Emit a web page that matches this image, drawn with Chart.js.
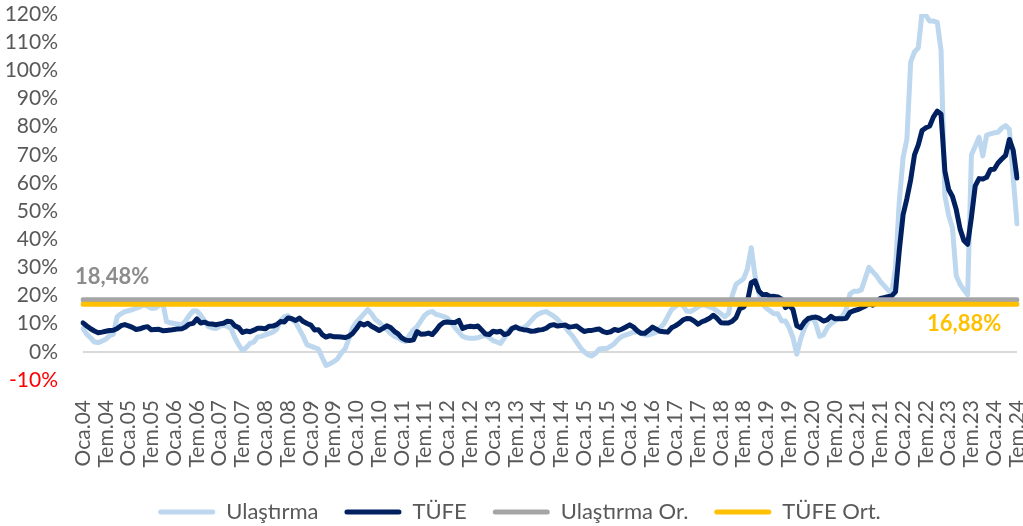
<!DOCTYPE html>
<html>
<head>
<meta charset="utf-8">
<script src="https://cdn.jsdelivr.net/npm/chart.js@4.4.1/dist/chart.umd.min.js"></script>
<style>
  html, body { margin: 0; padding: 0; background: #ffffff; }
  #wrap { width: 1023px; height: 526px; position: relative; }
</style>
</head>
<body>
<div id="wrap"><canvas id="c"></canvas></div>
<script>
// ---- categories ----
const monthNames = ['Oca','Şub','Mar','Nis','May','Haz','Tem','Ağu','Eyl','Eki','Kas','Ara'];
const firstYear = 2004, lastYear = 2024, lastMonthIndex = 6; // Tem.24
const categories = [];
for (let y = firstYear; y <= lastYear; y++) {
  for (let m = 0; m < 12; m++) {
    if (y === lastYear && m > lastMonthIndex) break;
    categories.push(monthNames[m] + '.' + String(y).slice(2));
  }
}

// ---- series (annual % change) ----
const ulastirma = [
  8.3, 6.2, 5.0, 3.5, 3.3, 3.8, 4.5, 5.7, 6.3, 12.5, 13.5, 14.3,          // 2004
  14.6, 15.0, 15.5, 16.0, 16.7, 16.2, 15.5, 15.5, 16.5, 17.5, 10.7, 10.3, // 2005
  10.1, 9.8, 9.5, 11.0, 13.0, 14.5, 14.5, 13.0, 11.0, 9.0, 8.5, 8.3,      // 2006
  9.0, 9.5, 9.0, 8.3, 5.0, 2.5, 0.5, 1.5, 3.0, 3.5, 5.3, 5.5,             // 2007
  6.0, 6.5, 7.0, 8.0, 11.0, 12.5, 12.8, 11.5, 10.5, 8.0, 5.5, 2.5,        // 2008
  2.0, 1.5, 1.0, -2.0, -4.8, -4.3, -3.5, -2.5, -0.5, 1.0, 4.5, 8.5,       // 2009
  10.5, 12.0, 13.5, 15.0, 13.5, 11.5, 10.5, 9.0, 8.0, 6.5, 5.5, 5.0,      // 2010
  4.0, 3.7, 6.0, 7.7, 9.0, 11.0, 13.0, 14.0, 14.3, 13.3, 13.0, 12.5,      // 2011
  12.0, 10.5, 8.5, 7.0, 5.5, 5.0, 4.8, 4.8, 5.0, 5.5, 6.0, 5.0,           // 2012
  4.0, 3.5, 3.0, 5.0, 7.5, 8.5, 8.5, 8.5, 8.5, 9.5, 11.0, 12.5,           // 2013
  13.5, 14.0, 14.3, 13.5, 12.7, 11.5, 10.0, 8.8, 7.0, 5.5, 3.5, 1.5,      // 2014
  0.0, -1.0, -1.5, -0.5, 1.0, 1.2, 1.2, 2.0, 3.0, 4.5, 5.5, 6.0,          // 2015
  6.5, 7.0, 7.1, 6.5, 6.0, 6.0, 6.5, 7.0, 8.5, 10.0, 12.5, 15.0,          // 2016
  16.1, 17.0, 16.5, 14.5, 14.3, 15.0, 16.0, 16.7, 16.5, 16.0, 15.5, 14.5, // 2017
  13.5, 12.5, 13.5, 20.0, 24.0, 25.0, 26.0, 29.5, 37.0, 27.0, 21.0, 17.0, // 2018
  15.5, 14.5, 13.5, 13.5, 11.0, 11.0, 8.5, 5.0, -0.8, 4.5, 8.3, 11.0,     // 2019
  12.5, 10.0, 5.5, 6.0, 8.5, 10.0, 11.0, 12.0, 12.5, 15.0, 20.5, 21.5,    // 2020
  21.5, 22.0, 26.0, 30.0, 28.5, 27.0, 25.0, 23.5, 22.0, 21.0, 30.0, 53.5, // 2021
  69.0, 75.5, 103.0, 106.5, 108.0, 120.5, 119.5, 117.5, 117.5, 117.0, 107.0, 55.5, // 2022
  48.5, 44.0, 27.0, 24.0, 22.0, 20.3, 70.0, 73.0, 76.2, 69.6, 77.0, 77.4, // 2023
  77.8, 78.0, 79.5, 80.4, 79.0, 62.0, 45.5                                // 2024
];
const tufe = [
  10.3, 9.2, 8.2, 7.4, 6.8, 7.0, 7.3, 7.6, 7.7, 8.3, 9.3, 9.7,            // 2004
  9.24, 8.69, 7.94, 8.18, 8.70, 8.95, 7.82, 7.91, 7.99, 7.52, 7.61, 7.72, // 2005
  7.93, 8.15, 8.16, 8.83, 9.86, 10.12, 11.69, 10.26, 10.55, 9.98, 9.86, 9.65, // 2006
  9.93, 10.16, 10.86, 10.72, 9.23, 8.60, 6.90, 7.39, 7.12, 7.70, 8.40, 8.39,  // 2007
  8.17, 9.10, 9.15, 9.66, 10.74, 10.61, 12.06, 11.77, 11.13, 11.99, 10.76, 10.06, // 2008
  9.50, 7.73, 7.89, 6.13, 5.24, 5.73, 5.39, 5.33, 5.27, 5.08, 5.53, 6.53, // 2009
  8.19, 10.13, 9.56, 10.19, 9.10, 8.37, 7.58, 8.33, 9.24, 8.62, 7.29, 6.40, // 2010
  4.90, 4.16, 3.99, 4.26, 7.17, 6.24, 6.31, 6.65, 6.15, 7.66, 9.48, 10.45,  // 2011
  10.61, 10.43, 10.43, 11.14, 8.28, 8.87, 9.07, 8.88, 9.19, 7.80, 6.37, 6.16, // 2012
  7.31, 7.03, 7.29, 6.13, 6.51, 8.30, 8.88, 8.17, 7.88, 7.71, 7.32, 7.40, // 2013
  7.75, 7.89, 8.39, 9.38, 9.66, 9.16, 9.32, 9.54, 8.86, 8.96, 9.15, 8.17, // 2014
  7.24, 7.55, 7.61, 7.91, 8.09, 7.20, 6.81, 7.14, 7.95, 7.58, 8.10, 8.81, // 2015
  9.58, 8.78, 7.46, 6.57, 6.58, 7.64, 8.79, 8.05, 7.28, 7.16, 7.00, 8.53, // 2016
  9.22, 10.13, 11.29, 11.87, 11.72, 10.90, 9.79, 10.68, 11.20, 11.90, 12.98, 11.92, // 2017
  10.35, 10.26, 10.23, 10.85, 12.15, 15.39, 15.85, 17.90, 24.52, 25.24, 21.62, 20.30, // 2018
  20.35, 19.67, 19.71, 19.50, 18.71, 15.72, 16.65, 15.01, 9.26, 8.55, 10.56, 11.84, // 2019
  12.15, 12.37, 11.86, 10.94, 11.39, 12.62, 11.76, 11.77, 11.75, 11.89, 14.03, 14.60, // 2020
  14.97, 15.61, 16.19, 17.14, 16.59, 17.53, 18.95, 19.25, 19.58, 19.89, 21.31, 36.08, // 2021
  48.69, 54.44, 61.14, 69.97, 73.50, 78.62, 79.60, 80.21, 83.45, 85.51, 84.39, 64.27, // 2022
  57.68, 55.18, 50.51, 43.68, 39.59, 38.21, 47.83, 58.94, 61.53, 61.36, 61.98, 64.77, // 2023
  64.86, 67.07, 68.50, 69.80, 75.45, 71.60, 61.78                         // 2024
];
const ulastirmaOrt = 18.48;
const tufeOrt = 16.88;
const avgLabels = ['18,48%', '16,88%'];

// ---- axis ----
const yMin = -10, yMax = 120, yStep = 10;
const labelEvery = 6;

const FONT = 'Lato, "Open Sans", sans-serif';
const GREY_TXT = '#595959';

const avgLine = (v) => [
  { x: categories[0], y: v },
  { x: categories[categories.length - 1], y: v }
];

const annotPlugin = {
  id: 'avgText',
  afterLayout(chart) {
    // nudge the legend row a little to the right, as in the original
    if (chart.legend) { chart.legend.left += 11; chart.legend.right += 11; }
  },
  afterDatasetsDraw(chart) {
    const { ctx, chartArea, scales } = chart;
    const ys = scales.y;
    ctx.save();
    ctx.font = 'bold 22px ' + FONT;
    ctx.textBaseline = 'middle';
    ctx.textAlign = 'left';
    ctx.fillStyle = '#8C8C8C';
    ctx.fillText(avgLabels[0], chartArea.left - 8, ys.getPixelForValue(ulastirmaOrt) - 23);
    ctx.fillStyle = '#FFC000';
    ctx.fillText(avgLabels[1], chartArea.right - 90, ys.getPixelForValue(tufeOrt) + 20);
    ctx.restore();
  }
};

new Chart(document.getElementById('c'), {
  type: 'line',
  data: {
    labels: categories,
    datasets: [
      { label: 'Ulaştırma', data: ulastirma, borderColor: '#BDD7EE', backgroundColor: '#BDD7EE',
        borderWidth: 5, order: 4 },
      { label: 'TÜFE', data: tufe, borderColor: '#002060', backgroundColor: '#002060',
        borderWidth: 5, order: 3 },
      { label: 'Ulaştırma Or.', data: avgLine(ulastirmaOrt), borderColor: '#A5A5A5', backgroundColor: '#A5A5A5',
        borderWidth: 5, order: 2 },
      { label: 'TÜFE Ort.', data: avgLine(tufeOrt), borderColor: '#FFC000', backgroundColor: '#FFC000',
        borderWidth: 5, order: 1 }
    ]
  },
  options: {
    responsive: true,
    maintainAspectRatio: false,
    animation: false,
    devicePixelRatio: 1,
    layout: { padding: { top: 14, right: 6, bottom: -7, left: 0 } },
    elements: {
      point: { radius: 0, hoverRadius: 0 },
      line: { tension: 0, borderJoinStyle: 'round', borderCapStyle: 'round', fill: false }
    },
    plugins: {
      legend: {
        position: 'bottom',
        labels: {
          font: { family: FONT, size: 22 },
          color: GREY_TXT,
          boxWidth: 57,
          boxHeight: 5,
          padding: 26,
          useBorderRadius: true,
          borderRadius: 2.5,
          sort: (a, b) => a.datasetIndex - b.datasetIndex,
          generateLabels(chart) {
            const items = Chart.defaults.plugins.legend.labels.generateLabels(chart);
            items.forEach(it => { it.lineWidth = 0; it.fillStyle = it.strokeStyle; });
            return items;
          }
        }
      },
      tooltip: { enabled: false },
      title: { display: false }
    },
    scales: {
      x: {
        type: 'category',
        grid: { display: false },
        border: { display: false },
        ticks: {
          autoSkip: false,
          maxRotation: 90,
          minRotation: 90,
          padding: 12,
          color: GREY_TXT,
          font: { family: FONT, size: 21 },
          callback(val, idx) { return idx % labelEvery === 0 ? this.getLabelForValue(val) : ''; }
        },
        afterFit(s) { s.paddingLeft = 0; s.paddingRight = 0; s.height = 95; }
      },
      y: {
        min: yMin, max: yMax,
        border: { display: false },
        grid: {
          drawTicks: false,
          lineWidth: 2,
          color: (c) => (c.tick && c.tick.value === 0) ? '#D9D9D9' : 'rgba(0,0,0,0)'
        },
        ticks: {
          stepSize: yStep,
          autoSkip: false,
          padding: 25,
          color: (c) => (c.tick && c.tick.value < 0) ? '#FF0000' : GREY_TXT,
          font: { family: FONT, size: 21 },
          callback: (v) => v + '%'
        },
        afterFit(s) { s.width = 83; s.paddingTop = 0; s.paddingBottom = 0; }
      }
    }
  },
  plugins: [annotPlugin]
});
</script>
</body>
</html>
